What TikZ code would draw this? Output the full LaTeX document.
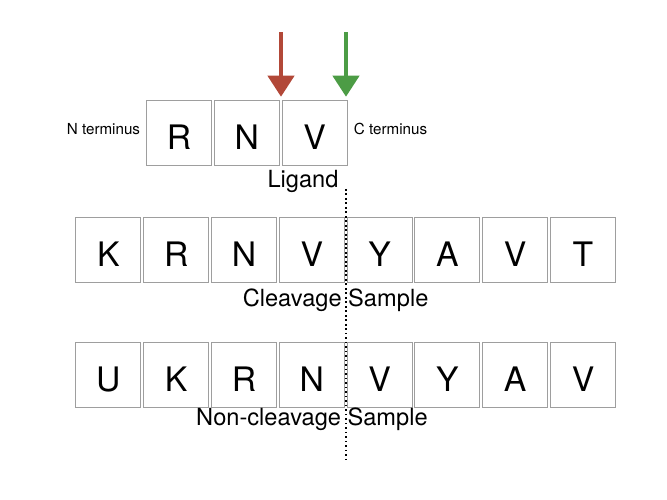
\documentclass[tikz,border=0pt]{standalone}
\usepackage{fontspec}
\setmainfont{TeX Gyre Heros}
\usetikzlibrary{arrows.meta}
\usetikzlibrary{positioning}
\definecolor{boxgray}{RGB}{158,158,158}
\definecolor{cutred}{RGB}{178,72,56}
\definecolor{cutgreen}{RGB}{76,156,69}

\begin{document}
\begin{tikzpicture}[
    res/.style={draw=boxgray, line width=0.8pt, minimum size=1.625cm, inner sep=0pt,
      font=\fontsize{24}{24}\selectfont, text height=24pt, text depth=0pt},
    tag/.style={inner sep=0pt, font=\fontsize{10.8}{12}\selectfont},
    caption/.style={inner sep=0pt, anchor=base, font=\fontsize{16.8}{18}\selectfont},
    site/.style={-{Triangle[length=0.53cm,width=0.65cm]}, line width=0.118cm},
    cutline/.style={line width=1.1pt, dash pattern=on 1.1pt off 2.1pt}]
    \useasboundingbox (0,0) rectangle (16.675,12.5);

    % ligand
    \node[res] (l1) at (4.475,9.18) {R};
    \node[res] (l2) at (6.17,9.18) {N};
    \node[res] (l3) at (7.865,9.18) {V};
    \node[tag, left=0.14cm of l1, yshift=0.1cm] (nterm) {N terminus};
    \node[tag, right=0.15cm of l3, yshift=0.1cm] (cterm) {C terminus};
    \node[caption] (lig) at (7.575,7.8) {Ligand};

    % cleavage sites
    \coordinate (redtop) at (7.025,11.69);
    \coordinate (redtip) at (7.025,10.08);
    \coordinate (greentop) at (8.65,11.69);
    \coordinate (greentip) at (8.65,10.08);
    \draw[site, cutred] (redtop) -- (redtip);
    \draw[site, cutgreen] (greentop) -- (greentip);

    % cleavage sample
    \node[res] (c1) at (2.71,6.255) {K};
    \node[res] (c2) at (4.405,6.255) {R};
    \node[res] (c3) at (6.10,6.255) {N};
    \node[res] (c4) at (7.795,6.255) {V};
    \node[res] (c5) at (9.49,6.255) {Y};
    \node[res] (c6) at (11.185,6.255) {A};
    \node[res] (c7) at (12.88,6.255) {V};
    \node[res] (c8) at (14.575,6.255) {T};
    \node[caption] (clv) at (8.39,4.83) {Cleavage Sample};

    % non-cleavage sample
    \node[res] (n1) at (2.71,3.125) {U};
    \node[res] (n2) at (4.405,3.125) {K};
    \node[res] (n3) at (6.10,3.125) {R};
    \node[res] (n4) at (7.795,3.125) {N};
    \node[res] (n5) at (9.49,3.125) {V};
    \node[res] (n6) at (11.185,3.125) {Y};
    \node[res] (n7) at (12.88,3.125) {A};
    \node[res] (n8) at (14.575,3.125) {V};
    \node[caption] (nclv) at (7.8,1.85) {Non-cleavage Sample};

    \coordinate (cuttop) at (8.65,7.775);
    \coordinate (cutbot) at (8.65,0.95);
    \draw[cutline] (cuttop) -- (cutbot);
  \end{tikzpicture}
\end{document}
